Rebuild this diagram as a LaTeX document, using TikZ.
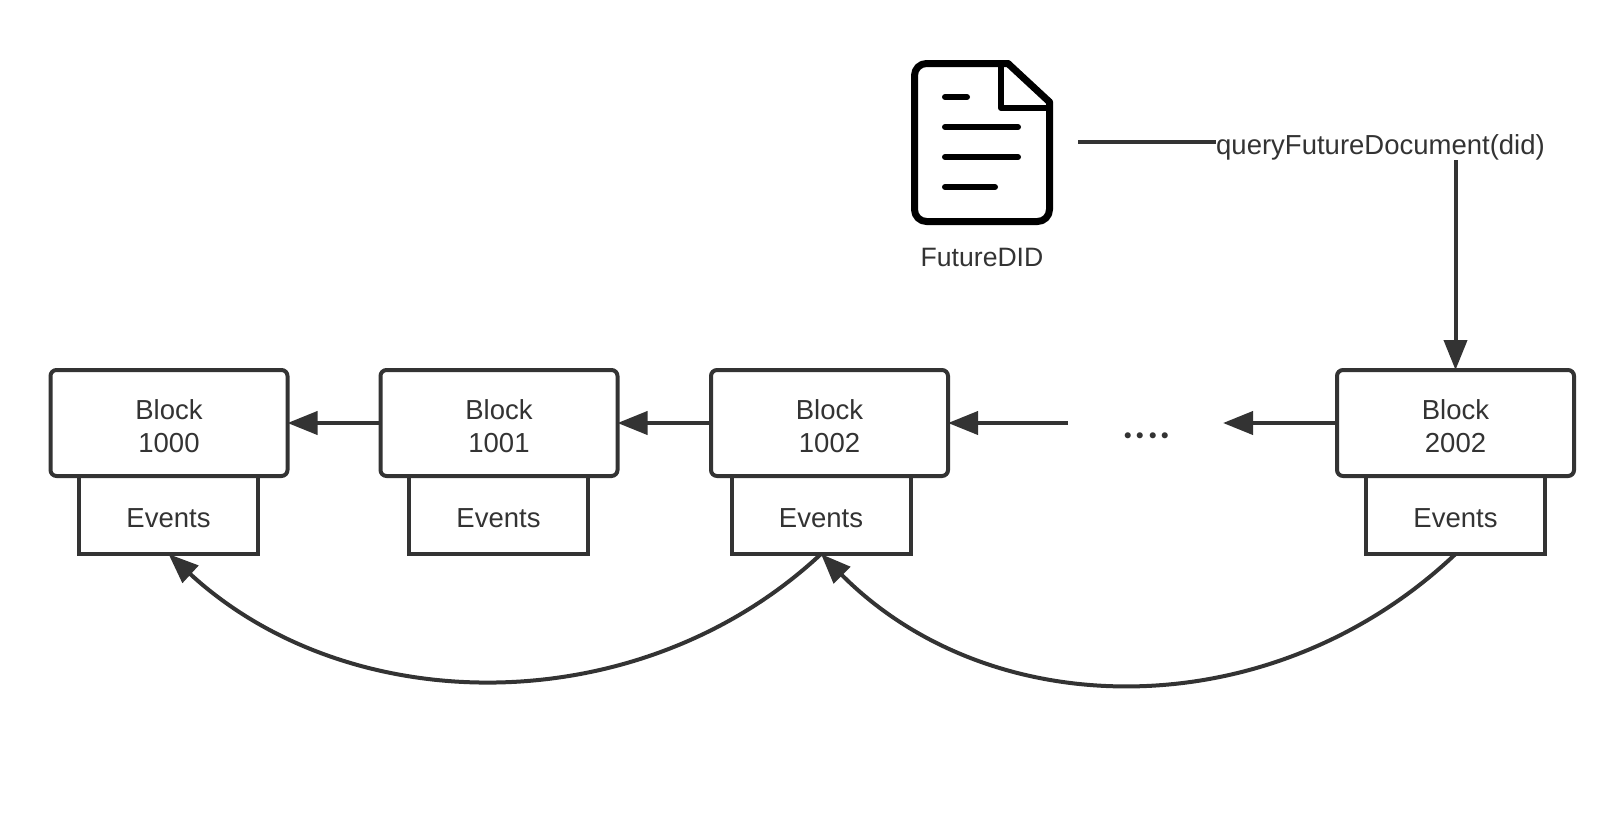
\documentclass[tikz,border=0pt]{standalone}
\usepackage{fontspec}
\setmainfont{Liberation Sans}
\newfontfamily\dotfont{Lato}
\usetikzlibrary{arrows.meta}
\definecolor{ink}{RGB}{51,51,51}

\begin{document}
\begin{tikzpicture}[x=1pt,y=-1pt]
    \tikzstyle{block}=[draw=ink,text=ink,fill=white,line width=4pt,outer sep=0pt,rounded corners=6pt,minimum width=237pt,minimum height=106pt,align=center,font=\fontsize{27.5}{32.5}\selectfont]
    \tikzstyle{events}=[draw=ink,text=ink,fill=white,line width=4pt,outer sep=0pt,minimum width=179pt,minimum height=78pt,font=\fontsize{27.5}{31.5}\selectfont]
    \tikzstyle{caption}=[text=ink,inner sep=0pt,font=\fontsize{27.5}{31.5}\selectfont]
    \tikzstyle{fwd}=[draw=ink,line width=4pt,-{Triangle[length=30pt,width=23pt]}]
    \tikzstyle{plain}=[draw=ink,line width=4pt]
    \tikzstyle{doc}=[draw=black,line width=7pt,line cap=round,line join=round]

    \def\by{423}
    \def\ey{515}
    \def\lift{\rule{0pt}{26pt}}
    \def\gap{\kern3pt}

    \useasboundingbox (0,0) rectangle (1624,817);

    % events sit behind the blocks
    \node[events]  (e1) at (168.5,\ey) {\lift Events};
    \node[events]  (e2) at (498.5,\ey) {\lift Events};
    \node[events]  (e3) at (821,\ey) {\lift Events};
    \node[events]  (e4) at (1455.5,\ey) {\lift Events};

    \node[block]  (b1) at (169,\by) {\lift Block\\1000};
    \node[block]  (b2) at (499,\by) {\lift Block\\1001};
    \node[block]  (b3) at (829.5,\by) {\lift Block\\1002};
    \node[block]  (b4) at (1455.5,\by) {\lift Block\\2002};

    \node[caption]  (dots) at (1146.5,\by+13) {\dotfont\bfseries\fontsize{40}{40}\selectfont .\gap.\gap.\gap.};
    \coordinate (gl) at (1068,\by);
    \coordinate (gr) at (1223,\by);

   \draw [fwd] (b2.west) -- (b1.east);
   \draw [fwd] (b3.west) -- (b2.east);
   \draw [fwd] (gl) -- (b3.east);
   \draw [fwd] (b4.west) -- (gr);

   \draw [fwd] (e3.south) .. controls (641,722) and (351,722) .. (e1.south);
   \draw [fwd] (e4.south) .. controls (1273,727) and (993,727) .. (e3.south);

    % the document icon
    \draw [doc, rounded corners=12pt] (1008,63.5) -- (914.5,63.5) -- (914.5,221.5) -- (1049.5,221.5) -- (1049.5,102);
    \draw [doc] (1008,63.5) -- (1049.5,102);
    \draw [doc, line width=6pt] (1001,63.5) -- (1001,108) -- (1049.5,108);
    \draw [doc, line width=6pt] (945,97) -- (967,97);
    \draw [doc, line width=6pt] (945,127) -- (1018,127);
    \draw [doc, line width=6pt] (945,157) -- (1018,157);
    \draw [doc, line width=6pt] (945,187) -- (995,187);
    \node[caption, font=\fontsize{26.6}{31.5}\selectfont]  (did) at (982,257) {FutureDID};

    \node[caption]  (query) at (1380.5,147) {queryFutureDocument(did)};
    \coordinate (q0) at (1078,142);

   \draw [plain] (q0) -- (q0 -| query.west);
   \draw [fwd] (query.south -| b4.north) -- (b4.north);

\end{tikzpicture}
\end{document}
